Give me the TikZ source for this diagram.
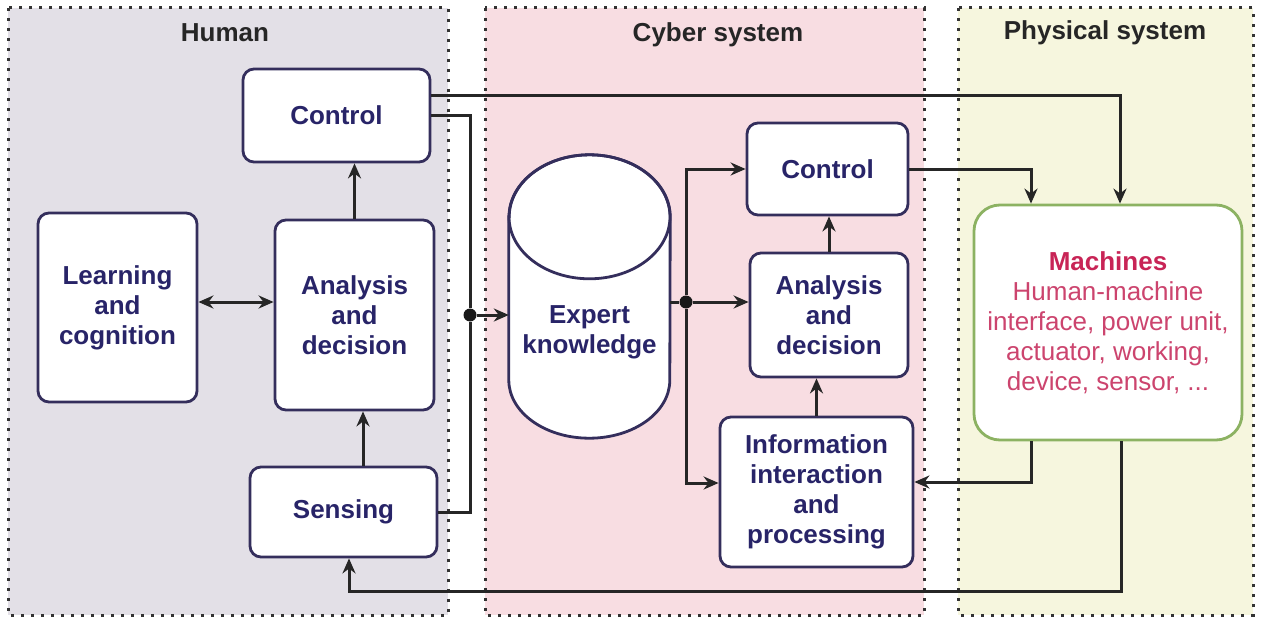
\documentclass[tikz,border=0pt]{standalone}
\usepackage{fontspec}
\setmainfont{Liberation Sans}
\usetikzlibrary{arrows.meta}

\definecolor{humanBg}{RGB}{227,224,231}
\definecolor{cyberBg}{RGB}{248,221,226}
\definecolor{physBg}{RGB}{246,246,222}
\definecolor{boxLine}{RGB}{52,46,92}
\definecolor{boxText}{RGB}{40,36,104}
\definecolor{machLine}{RGB}{140,178,98}
\definecolor{machText}{RGB}{200,36,86}
\definecolor{machSub}{RGB}{204,68,110}

\begin{document}
\begin{tikzpicture}
[x=1pt,y=-1pt,
  panelDecorate/.style={draw=black!80,line width=3pt,dash pattern=on 3pt off 7pt},
  titleDecorate/.style={font=\fontsize{26}{30}\selectfont\bfseries,text=black!85},
  nodeDecorate/.style={draw=boxLine,line width=2.8pt,rounded corners=11pt,fill=white,
    text=boxText,align=center,inner sep=0pt,font=\fontsize{26}{30}\selectfont\bfseries},
  machDecorate/.style={draw=machLine,line width=2.8pt,rounded corners=26pt,fill=white,
    text=machSub,align=center,inner sep=0pt,font=\fontsize{26}{30}\selectfont},
  lineDecorate/.style={line width=3pt,draw=black!85,>={Stealth[length=15pt,width=13pt]}},
  dotDecorate/.style={circle,fill=black!90,inner sep=0pt,minimum size=13pt}]
\useasboundingbox (0,0) rectangle (1261,618);
%% panels
\filldraw[panelDecorate,fill=humanBg] (8,8) rectangle (448,615);
\filldraw[panelDecorate,fill=cyberBg] (485,8) rectangle (924,615);
\filldraw[panelDecorate,fill=physBg] (958,8) rectangle (1253,615);
\node[titleDecorate] (thuman) at (225,33) {Human};
\node[titleDecorate] (tcyber) at (718,35) {Cyber system};
\node[titleDecorate] (tphys) at (1105,33) {Physical system};
%% blocks
\foreach \nodename/\x/\y/\w/\h/\txt in {
  hctrl/336.5/115.5/187/93/Control,
  learn/117.5/307.5/159/189/{Learning\\and\\cognition},
  hana/354.5/315/159/190/{Analysis\\and\\decision},
  sens/343.5/512/187/90/Sensing,
  cctrl/827.5/169/161/92/Control,
  cana/829/315/158/124/{Analysis\\and\\decision},
  info/816.5/492/193/150/{Information\\interaction\\and\\processing}}
{
  \node[nodeDecorate,minimum width=\w,minimum height=\h] (\nodename) at (\x,\y) {\txt};
}
\node[machDecorate,minimum width=268,minimum height=235] (mach) at (1108,322.5)
  {{\bfseries\color{machText}Machines}\\Human-machine\\interface, power unit,\\actuator, working,\\device, sensor, ...};
%% database
\node[minimum width=161,minimum height=283,inner sep=0pt] (ek) at (589.5,296.5) {};
\draw[draw=boxLine,line width=2.8pt,fill=white] ([yshift=-62pt]ek.north west)
  -- ([yshift=58pt]ek.south west) arc[start angle=180,end angle=360,x radius=80.5pt,y radius=58pt]
  -- ([yshift=-62pt]ek.north east) arc[start angle=0,end angle=180,x radius=80.5pt,y radius=62pt]
  -- cycle;
\draw[draw=boxLine,line width=2.8pt] ([yshift=-62pt]ek.north) ellipse [x radius=80.5pt,y radius=62pt];
\node[text=boxText,align=center,font=\fontsize{26}{30}\selectfont\bfseries] (ektext) at (589.5,332) {Expert\\knowledge};
%% junctions
\node[dotDecorate] (jl) at (470,315) {};
\node[dotDecorate] (jr) at (686,302) {};
\coordinate (back) at (349,591);
%% edges
\draw[lineDecorate,->] (hctrl.east |- 0,95) -| (mach.north -| 1120,0);
\draw[lineDecorate] (hctrl.east) -| (jl) |- (sens.east);
\draw[lineDecorate,->] (jl) -- (ek.west |- jl);
\draw[lineDecorate,<->] (learn.east |- 0,302) -- (hana.west |- 0,302);
\draw[lineDecorate,->] (hana.north) -- (hana.north |- hctrl.south);
\draw[lineDecorate,->] (sens.north -| 363,0) -- (hana.south -| 363,0);
\draw[lineDecorate] (ek.east |- jr) -- (jr);
\draw[lineDecorate,->] (jr) -- (cana.west |- jr);
\draw[lineDecorate,->] (jr) |- (cctrl.west);
\draw[lineDecorate,->] (jr) |- (info.west |- 0,483);
\draw[lineDecorate,->] (info.north) -- (cana.south -| info.north);
\draw[lineDecorate,->] (cana.north) -- (cctrl.south -| cana.north);
\draw[lineDecorate,->] (cctrl.east) -| (mach.north -| 1031,0);
\draw[lineDecorate,->] (mach.south -| 1031,0) |- (info.east |- 0,482);
\draw[lineDecorate,->] (mach.south -| 1121,0) |- (back) -- (sens.south -| back);
\end{tikzpicture}
\end{document}
